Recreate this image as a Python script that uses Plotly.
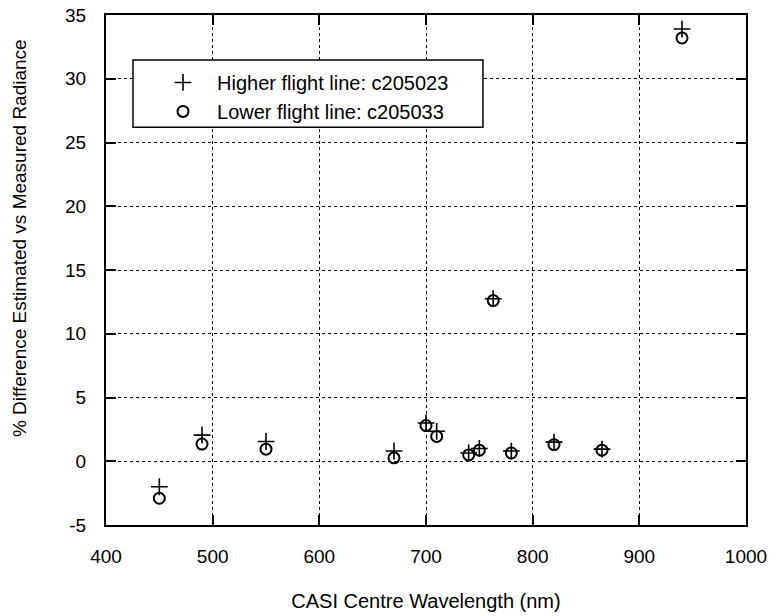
import plotly.graph_objects as go

# Data
wavelength = [450, 490, 550, 670, 700, 710, 740, 750, 763, 780, 820, 865, 940]
higher_line = [-2.0, 2.05, 1.55, 0.8, 3.0, 2.35, 0.65, 1.0, 12.75, 0.8, 1.5, 0.95, 33.9]
lower_line = [-2.9, 1.35, 0.95, 0.27, 2.8, 1.95, 0.5, 0.87, 12.6, 0.65, 1.3, 0.87, 33.2]

x_ticks = [400, 500, 600, 700, 800, 900, 1000]
y_ticks = [-5, 0, 5, 10, 15, 20, 25, 30, 35]

FONT = "Liberation Sans, Arial, Helvetica, sans-serif"

fig = go.Figure()
fig.add_trace(go.Scatter(
    x=wavelength, y=higher_line, mode="markers",
    name="Higher flight line: c205023",
    marker=dict(symbol="cross-thin-open", size=12, color="black",
                line=dict(color="black", width=1.6)),
))
fig.add_trace(go.Scatter(
    x=wavelength, y=lower_line, mode="markers",
    name="Lower flight line: c205033",
    marker=dict(symbol="circle-open", size=11, color="black",
                line=dict(color="black", width=2)),
))

axis_common = dict(
    showline=True, linecolor="black", linewidth=2, mirror="ticks",
    ticks="inside", ticklen=10, tickwidth=2, tickcolor="black",
    showgrid=True, gridcolor="black", griddash="dot", gridwidth=1,
    zeroline=False, automargin=False,
    tickfont=dict(family=FONT, size=19, color="black"),
)

fig.update_xaxes(
    range=[400, 1000], tickvals=x_ticks, ticktext=[str(v) for v in x_ticks],
    ticklabelstandoff=13,
    title=dict(text="CASI Centre Wavelength (nm)", standoff=28,
               font=dict(family=FONT, size=20, color="black")),
    **axis_common,
)
fig.update_yaxes(
    range=[-5, 35], tickvals=y_ticks, ticktext=[str(v) for v in y_ticks],
    ticklabelstandoff=14,
    **axis_common,
)

fig.add_annotation(
    text="% Difference Estimated vs Measured Radiance",
    xref="paper", yref="paper", x=-0.134, y=0.563,
    xanchor="center", yanchor="middle", textangle=-90, showarrow=False,
    font=dict(family=FONT, size=19, color="black"),
)

# legend frame (white box with black border)
fig.add_shape(
    type="rect", xref="paper", yref="paper",
    x0=0.0422, x1=0.589, y0=0.780, y1=0.912,
    line=dict(color="black", width=1.5), fillcolor="white", layer="above",
)

fig.update_layout(
    width=771, height=616, autosize=False,
    margin=dict(l=106, r=25, t=15, b=91),
    paper_bgcolor="white", plot_bgcolor="white",
    font=dict(family=FONT, size=18, color="black"),
    showlegend=True,
    legend=dict(
        x=0.0672, y=0.906, xanchor="left", yanchor="top",
        bgcolor="rgba(0,0,0,0)", borderwidth=0,
        font=dict(family=FONT, size=20, color="black"),
        itemwidth=58,
    ),
)

fig.write_html("out.html")
